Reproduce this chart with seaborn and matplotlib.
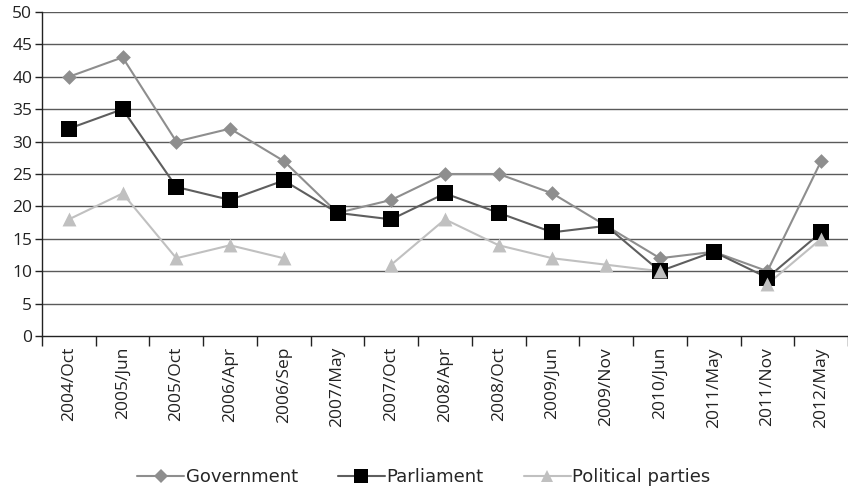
import numpy as np
import pandas as pd
import matplotlib
matplotlib.use("Agg")
import matplotlib.pyplot as plt
from matplotlib.lines import Line2D
import seaborn as sns

categories = ["2004/Oct", "2005/Jun", "2005/Oct", "2006/Apr", "2006/Sep",
              "2007/May", "2007/Oct", "2008/Apr", "2008/Oct", "2009/Jun",
              "2009/Nov", "2010/Jun", "2011/May", "2011/Nov", "2012/May"]
government = [40, 43, 30, 32, 27, 19, 21, 25, 25, 22, 17, 12, 13, 10, 27]
parliament = [32, 35, 23, 21, 24, 19, 18, 22, 19, 16, 17, 10, 13, 9, 16]
political_parties = [18, 22, 12, 14, 12, np.nan, 11, 18, 14, 12, 11, 10, np.nan, 8, 15]
y_ticks = list(range(0, 55, 5))

series = {"Government": government, "Parliament": parliament,
          "Political parties": political_parties}
colors = {"Government": "#8e8e8e", "Parliament": "#5e5e5e", "Political parties": "#c0c0c0"}
marker_colors = {"Government": "#8e8e8e", "Parliament": "#000000", "Political parties": "#c0c0c0"}
markers = {"Government": "D", "Parliament": "s", "Political parties": "^"}
msizes = {"Government": 7.5, "Parliament": 11, "Political parties": 10}

# long-form table; a new segment starts after every missing value
rows = []
for name, vals in series.items():
    seg = 0
    for i, v in enumerate(vals):
        if np.isnan(v):
            seg += 1
            continue
        rows.append({"series": name, "x": i, "value": v, "segment": f"{name}-{seg}"})
df = pd.DataFrame(rows)

sns.set_theme(style="white")
plt.rcParams["font.family"] = ["Open Sans", "DejaVu Sans"]

fig = plt.figure(figsize=(8.48, 4.95), dpi=100)
ax = fig.add_axes([42 / 848, 1 - 336 / 495, 1 - 42 / 848, (336 - 12) / 495])

ax.set_axisbelow(True)
for y in y_ticks[1:]:
    ax.axhline(y, color="#5a5a5a", lw=1.0, zorder=0)

for name in series:
    sub = df[df["series"] == name]
    sns.lineplot(data=sub, x="x", y="value", units="segment", estimator=None,
                 color=colors[name], lw=1.5, ax=ax, legend=False, zorder=2)
    ax.scatter(sub["x"], sub["value"], marker=markers[name],
               s=msizes[name] ** 2, color=marker_colors[name], zorder=3,
               linewidths=0)

ax.set_xlim(-0.5, len(categories) - 0.5)
ax.set_ylim(0, 50)
ax.set_yticks(y_ticks)
ax.set_xticks(range(len(categories)))
ax.set_xticklabels(categories, rotation=90, fontsize=12.5, color="#222222")
ax.set_xticks(np.arange(-0.5, len(categories), 1), minor=True)
ax.tick_params(axis="x", which="major", length=0, pad=8)
ax.tick_params(axis="x", which="minor", length=7, width=1, color="#222222", direction="out", bottom=True)
ax.tick_params(axis="y", length=5, width=1, color="#222222", direction="out", left=True,
               labelsize=12.5, labelcolor="#222222", pad=2)
ax.set_xlabel("")
ax.set_ylabel("")
for s in ["top", "right"]:
    ax.spines[s].set_visible(False)
for s in ["left", "bottom"]:
    ax.spines[s].set_color("#222222")
    ax.spines[s].set_linewidth(1.0)

handles = [Line2D([], [], color=colors[n], lw=1.5, marker=markers[n],
                  markerfacecolor=marker_colors[n], markeredgewidth=0,
                  markersize=msizes[n] * 0.9) for n in series]
fig.legend(handles, list(series.keys()), loc="center", bbox_to_anchor=(0.5, 1 - 477 / 495),
           ncol=3, frameon=False, handlelength=2.6, handletextpad=0.1, columnspacing=2.2,
           prop={"family": ["Liberation Sans Narrow", "DejaVu Sans"], "size": 13})

fig.savefig("out.png", dpi=100)
